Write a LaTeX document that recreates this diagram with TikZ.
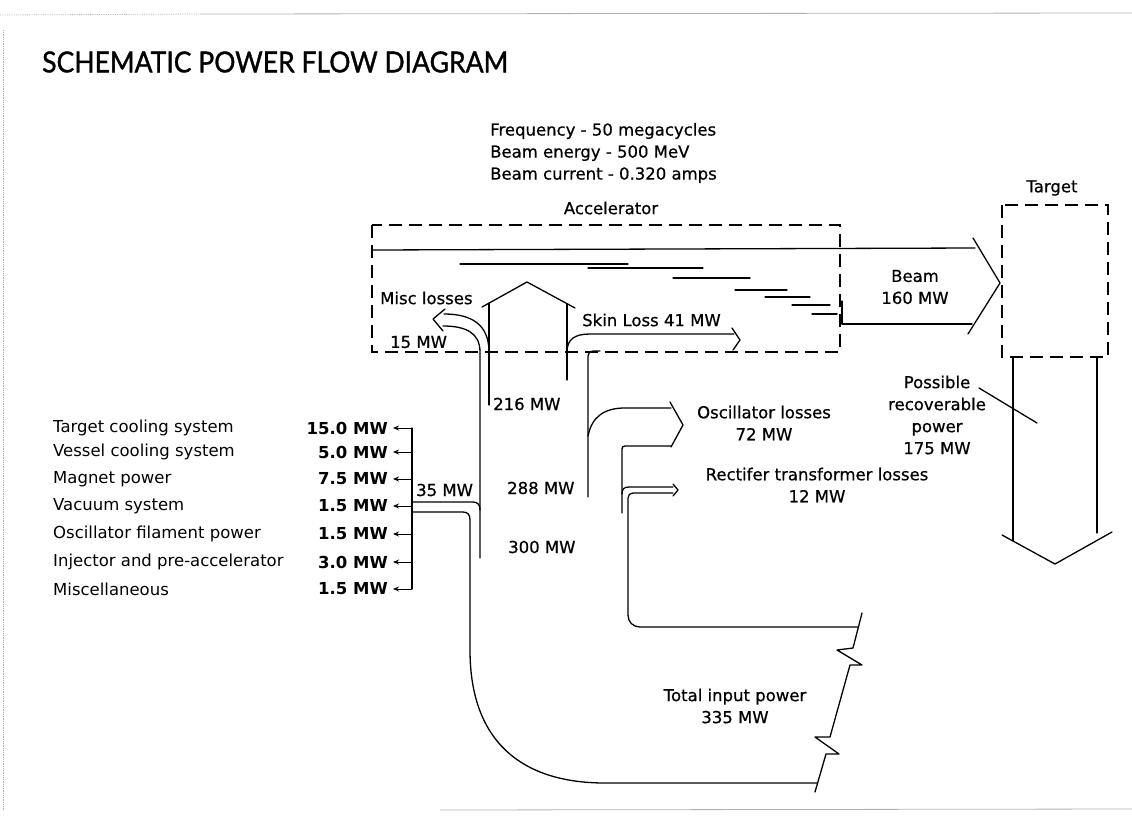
\documentclass[tikz,border=0pt]{standalone}
\usepackage{fontspec}
\setmainfont{DejaVu Sans}
\newfontfamily\lblfont{DejaVu Sans}[FakeBold=0.6]
\newfontfamily\titlefont{Lato}[FakeBold=1.2]
\usetikzlibrary{arrows.meta}
\begin{document}
\begin{tikzpicture}[x=1pt,y=-1pt,
  ln/.style={line width=1.3pt, line join=round, line cap=round},
  dsh/.style={line width=1.3pt, dash pattern=on 13pt off 7pt},
  lbl/.style={font=\lblfont\fontsize{16.5}{22}\selectfont, inner sep=0pt},
  val/.style={font=\bfseries\fontsize{16.5}{22}\selectfont, inner sep=0pt, anchor=east},
  item/.style={font=\fontsize{16.5}{22}\selectfont, inner sep=0pt, anchor=west},
  tip/.style={line width=1pt, -{Stealth[length=6pt,width=5pt]}},
  scan/.style={gray!60, line width=0.8pt}
]
\useasboundingbox (0,0) rectangle (1132,838);

% scan border traces
\draw[scan, densely dotted] (0,15) -- (200,14);
\draw[scan] (200,14) -- (1132,13);
\draw[scan, densely dotted] (3,30) -- (3,810);
\draw[scan] (440,810) -- (1132,809);

% title and header texts
\node[anchor=west, inner sep=0pt, font=\titlefont\fontsize{29}{30}\selectfont] (title) at (42,62) {\scalebox{0.915}[1]{SCHEMATIC POWER FLOW DIAGRAM}};
\node[lbl, align=left, anchor=west] (info) at (490,153) {Frequency - 50 megacycles\\Beam energy - 500 MeV\\Beam current - 0.320 amps};
\node[lbl] (acc) at (611,208) {Accelerator};
\node[lbl] (tgt) at (1052,188) {Target};

% accelerator and target boxes
\draw[dsh] (372,225) rectangle (840,352);
\draw[dsh] (1002,205) rectangle (1108,357);

% beam
\draw[ln] (372,250) -- (975,248);
\draw[ln] (973,238) -- (1000,283) -- (968,334);
\draw[ln] (842,301) -- (842,324) -- (972,324);
\draw[ln] (460,264) -- (628,264);
\draw[ln] (588,268) -- (703,268);
\draw[ln] (673,278) -- (750,278);
\draw[ln] (735,290) -- (787,290);
\draw[ln] (765,297) -- (810,297);
\draw[ln] (792,305) -- (830,305);
\draw[ln] (812,314) -- (837,314);
\node[lbl, align=center] (beam) at (915,287) {Beam\\160 MW};

% house (up arrow of beam power)
\draw[ln] (482,307) -- (527,282) -- (575,308);
\draw[ln] (489,303) -- (489,405);
\draw[ln] (567,304) -- (567,380);

% misc losses arrow
\draw[ln] (480,558) -- (480,352) .. controls (480,333) and (466,326) .. (443,326);
\draw[ln] (489,352) .. controls (489,324) and (471,314) .. (444,314);
\draw[ln] (445,309) -- (433,319) -- (443,331);
\node[lbl, anchor=west] (misc) at (380,298) {Misc losses};
\node[lbl, anchor=west] (m15) at (390,342) {15 MW};

% skin loss arrow
\draw[ln] (567,352) .. controls (567,339) and (575,334) .. (590,334) -- (734,334);
\draw[ln] (732,328) -- (740,340) -- (733,350);
\draw[ln] (588,497) -- (588,356) .. controls (588,353) and (590,351) .. (593,351) -- (600,351);
\node[lbl, anchor=west] (skin) at (582,320) {Skin Loss 41 MW};

% oscillator losses arrow
\draw[ln] (588,436) .. controls (592,416) and (605,408) .. (625,408) -- (671,408);
\draw[ln] (670,402) -- (683,425) -- (671,447);
\draw[ln] (622,513) -- (622,449) .. controls (622,447) and (623,446) .. (625,446) -- (671,446);
\node[lbl, align=center] (osc) at (764,423) {Oscillator losses\\72 MW};

% rectifier losses arrow
\draw[ln] (622,494) .. controls (622,489) and (624,487) .. (629,487) -- (673,487);
\draw[ln] (858,627) -- (640,627) .. controls (633,627) and (628,622) .. (628,615) -- (628,498) .. controls (628,495) and (630,493) .. (633,493) -- (673,493);
\draw[ln] (673,484) -- (678,490) -- (673,496);
\node[lbl, align=center] (rect) at (817,485) {Rectifer transformer losses\\12 MW};

% 35 MW branch and main input pipe
\draw[ln] (412,502) -- (473,502) .. controls (478,502) and (480,505) .. (480,510);
\draw[ln] (412,512) -- (463,512) .. controls (468,512) and (470,515) .. (470,520) -- (470,650) .. controls (470,740) and (520,783) .. (605,783) -- (817,783);
\draw[ln] (862,613) -- (853,648) -- (837,650) -- (862,665) -- (850,665) -- (830,737) -- (815,737) -- (839,754) -- (826,754) -- (815,792);
\node[lbl, anchor=west] (p35) at (416,490) {35 MW};
\node[lbl, anchor=west] (p216) at (493,404) {216 MW};
\node[lbl, anchor=west] (p288) at (507,488) {288 MW};
\node[lbl, anchor=west] (p300) at (508,547) {300 MW};
\node[lbl, align=center] (total) at (735,706) {Total input power\\335 MW};

% auxiliary list
\draw[ln] (412,428) -- (412,589);
\foreach \y/\name/\v in {428/Target cooling system/15.0 MW,
                         452/Vessel cooling system/5.0 MW,
                         479/Magnet power/7.5 MW,
                         506/Vacuum system/1.5 MW,
                         534/Oscillator filament power/1.5 MW,
                         562/Injector and pre-accelerator/3.0 MW,
                         589/Miscellaneous/1.5 MW}{
  \node[item] at (53,\y) {\name};
  \node[val] at (388,\y) {\v};
  \draw[tip] (412,\y) -- (393,\y);
}

% target output arrow
\draw[ln] (1013,357) -- (1013,541);
\draw[ln] (1097,357) -- (1097,533);
\draw[ln] (1002,535) -- (1055,564) -- (1112,532);
\draw[ln] (979,388) -- (1037,423);
\node[lbl, align=center] (recov) at (937,415) {Possible\\recoverable\\power\\175 MW};
\end{tikzpicture}
\end{document}
